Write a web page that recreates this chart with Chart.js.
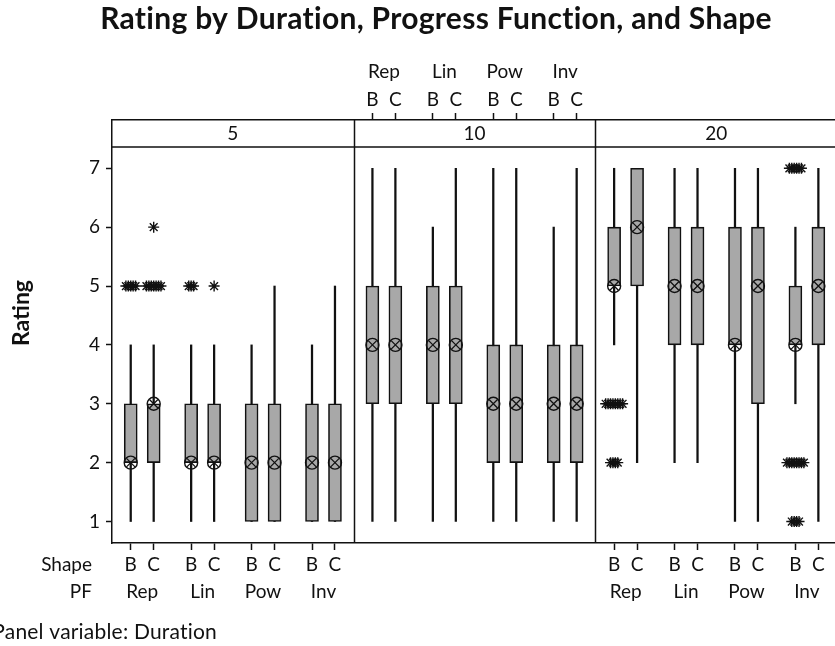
<!DOCTYPE html>
<html>
<head>
<meta charset="utf-8">
<title>Rating by Duration, Progress Function, and Shape</title>
<script src="https://cdn.jsdelivr.net/npm/chart.js@4.4.1/dist/chart.umd.min.js"></script>
<style>
  html, body { margin: 0; padding: 0; background: #fff; overflow: hidden; }
  #wrap { width: 845px; height: 646px; }
</style>
</head>
<body>
<div id="wrap"><canvas id="myChart" width="845" height="646"></canvas></div>
<script>
// ---- data ----
const durations = ['5', '10', '20'];
const progressFns = ['Rep', 'Lin', 'Pow', 'Inv'];
const shapes = ['B', 'C'];
const yTicks = [1, 2, 3, 4, 5, 6, 7];

// each row = one duration panel; box order: Rep B, Rep C, Lin B, Lin C, Pow B, Pow C, Inv B, Inv C
const whiskerLow = [
  [1, 1, 1, 1, 1, 1, 1, 1],
  [1, 1, 1, 1, 1, 1, 1, 1],
  [4, 2, 2, 2, 1, 1, 3, 1]
];
const whiskerHigh = [
  [4, 4, 4, 4, 4, 5, 4, 5],
  [7, 7, 6, 7, 7, 7, 6, 7],
  [7, 7, 7, 7, 7, 7, 6, 7]
];
const q1 = [
  [2, 2, 2, 2, 1, 1, 1, 1],
  [3, 3, 3, 3, 2, 2, 2, 2],
  [5, 5, 4, 4, 4, 3, 4, 4]
];
const q3 = [
  [3, 3, 3, 3, 3, 3, 3, 3],
  [5, 5, 5, 5, 4, 4, 4, 4],
  [6, 7, 6, 6, 6, 6, 5, 6]
];
const centerMark = [
  [2, 3, 2, 2, 2, 2, 2, 2],
  [4, 4, 4, 4, 3, 3, 3, 3],
  [5, 6, 5, 5, 4, 5, 4, 5]
];
// outliers: [panel, box, rating, tied count]
const outliers = [
  [0, 0, 5, 5], [0, 1, 5, 7], [0, 1, 6, 1], [0, 2, 5, 3], [0, 3, 5, 1],
  [2, 0, 3, 8], [2, 0, 2, 4], [2, 6, 7, 6], [2, 6, 2, 8], [2, 6, 1, 4]
];

// ---- helpers ----
const FONT = 'Lato, "Open Sans", sans-serif';
const INK = '#111';
const BOX_FILL = '#a8a8a8';

function xPos(panel, box) {
  const group = Math.floor(box / 2);
  return panel * 4 + group + 1 + (box % 2 === 0 ? -0.19 : 0.19);
}

const whiskerData = [], boxData = [], markData = [], starData = [];
durations.forEach((d, p) => {
  for (let b = 0; b < 8; b++) {
    const x = xPos(p, b);
    whiskerData.push({ x: x, y: [whiskerLow[p][b], whiskerHigh[p][b]] });
    boxData.push({ x: x, y: [q1[p][b], q3[p][b]] });
    markData.push({ x: x, y: centerMark[p][b] });
  }
});
outliers.forEach(([p, b, v, n]) => {
  const x = xPos(p, b);
  for (let i = 0; i < n; i++) {
    starData.push({ x: x + (i - (n - 1) / 2) * 0.04, y: v });
  }
});

const bottomTicks = [], topTicks = [];
[0, 2].forEach(p => { for (let b = 0; b < 8; b++) bottomTicks.push(xPos(p, b)); });
for (let b = 0; b < 8; b++) topTicks.push(xPos(1, b));

// ---- decorations: strips, panel lines, titles, group labels ----
const panelDecor = {
  id: 'panelDecor',
  afterDraw(chart) {
    const { ctx, chartArea: a, scales: { x } } = chart;
    ctx.save();
    ctx.strokeStyle = INK;
    ctx.lineWidth = 1.5;
    const stripBottom = a.top + 27;
    ctx.beginPath();
    ctx.moveTo(a.left, stripBottom); ctx.lineTo(a.right, stripBottom);
    [4.5, 8.5].forEach(v => {
      const px = Math.round(x.getPixelForValue(v)) + 0.5;
      ctx.moveTo(px, a.top); ctx.lineTo(px, a.bottom);
    });
    ctx.moveTo(a.right, a.top); ctx.lineTo(a.right, a.bottom);
    ctx.stroke();

    ctx.fillStyle = INK;
    ctx.textAlign = 'center';
    ctx.textBaseline = 'middle';
    ctx.font = '19px ' + FONT;
    durations.forEach((d, p) => ctx.fillText(d, x.getPixelForValue(p * 4 + 2.5), a.top + 14));

    // PF labels: top for middle panel, bottom for outer panels
    progressFns.forEach((pf, g) => {
      ctx.fillText(pf, x.getPixelForValue(4 + g + 1), 72);
      ctx.fillText(pf, x.getPixelForValue(g + 1), 592);
      ctx.fillText(pf, x.getPixelForValue(8 + g + 1), 592);
    });
    ctx.textAlign = 'right';
    ctx.fillText('Shape', 92, 565);
    ctx.fillText('PF', 92, 592);

    ctx.letterSpacing = '0.2px';
    ctx.font = '21px ' + FONT;
    ctx.fillText('Panel variable: Duration', 217, 632);

    ctx.letterSpacing = '0.3px';
    ctx.textAlign = 'center';
    ctx.textBaseline = 'alphabetic';
    ctx.font = 'bold 30px ' + FONT;
    ctx.fillText('Rating by Duration, Progress Function, and Shape', 436, 29);

    ctx.letterSpacing = '0px';
    ctx.translate(22, 313);
    ctx.rotate(-Math.PI / 2);
    ctx.textBaseline = 'middle';
    ctx.font = 'bold 23px ' + FONT;
    ctx.fillText('Rating', 0, 0);
    ctx.restore();
  }
};

const tickFont = { family: FONT, size: 19 };
const axisGrid = { offset: false, drawOnChartArea: false, drawTicks: true, tickLength: 7, tickColor: INK, tickWidth: 1.5 };

Chart.defaults.font.family = FONT;
const ctx = document.getElementById('myChart').getContext('2d');
const myChart = new Chart(ctx, {
  type: 'bar',
  data: {
    datasets: [
      {
        type: 'scatter', label: 'Outliers', data: starData, order: 1,
        pointStyle: 'star', radius: 5.5, borderColor: INK, borderWidth: 1.4,
        backgroundColor: 'rgba(0,0,0,0)'
      },
      {
        type: 'scatter', label: 'Mark X', data: markData, order: 2,
        pointStyle: 'crossRot', radius: 6, borderColor: INK, borderWidth: 1.3
      },
      {
        type: 'scatter', label: 'Mark O', data: markData, order: 3,
        pointStyle: 'circle', radius: 6.5, borderColor: INK, borderWidth: 1.4,
        backgroundColor: 'rgba(0,0,0,0)'
      },
      {
        type: 'bar', label: 'IQR', data: boxData, order: 4,
        barThickness: 13, grouped: false, backgroundColor: BOX_FILL,
        borderColor: INK, borderWidth: 1.6, borderSkipped: false
      },
      {
        type: 'bar', label: 'Whisker', data: whiskerData, order: 5,
        barThickness: 1.6, grouped: false, backgroundColor: INK, borderWidth: 0
      }
    ]
  },
  options: {
    responsive: false,
    animation: false,
    events: [],
    layout: { padding: { left: 0, right: 6, top: 0, bottom: 0 } },
    plugins: { legend: { display: false }, tooltip: { enabled: false }, title: { display: false } },
    scales: {
      x: {
        type: 'linear', position: 'bottom', min: 0.5, max: 12.5, offset: false,
        afterBuildTicks: s => { s.ticks = bottomTicks.map(v => ({ value: v })); },
        afterFit: s => { s.height = 103; },
        ticks: { callback: (v, i) => shapes[i % 2], font: tickFont, color: INK, padding: 3, autoSkip: false, maxRotation: 0 },
        grid: axisGrid,
        border: { display: true, color: INK, width: 1.5 }
      },
      x2: {
        type: 'linear', position: 'top', min: 0.5, max: 12.5, offset: false,
        afterBuildTicks: s => { s.ticks = topTicks.map(v => ({ value: v })); },
        afterFit: s => { s.height = 120; },
        ticks: { callback: (v, i) => shapes[i % 2], font: tickFont, color: INK, padding: 2, autoSkip: false, maxRotation: 0 },
        grid: axisGrid,
        border: { display: true, color: INK, width: 1.5 }
      },
      y: {
        type: 'linear', min: 0.635, max: 7.82,
        afterBuildTicks: s => { s.ticks = yTicks.map(v => ({ value: v })); },
        afterFit: s => { s.width = 112; },
        ticks: { font: tickFont, color: INK, padding: 6 },
        grid: { offset: false, drawOnChartArea: false, drawTicks: true, tickLength: 6, tickColor: INK, tickWidth: 1.5 },
        border: { display: true, color: INK, width: 1.5 }
      }
    }
  },
  plugins: [panelDecor]
});
</script>
</body>
</html>
